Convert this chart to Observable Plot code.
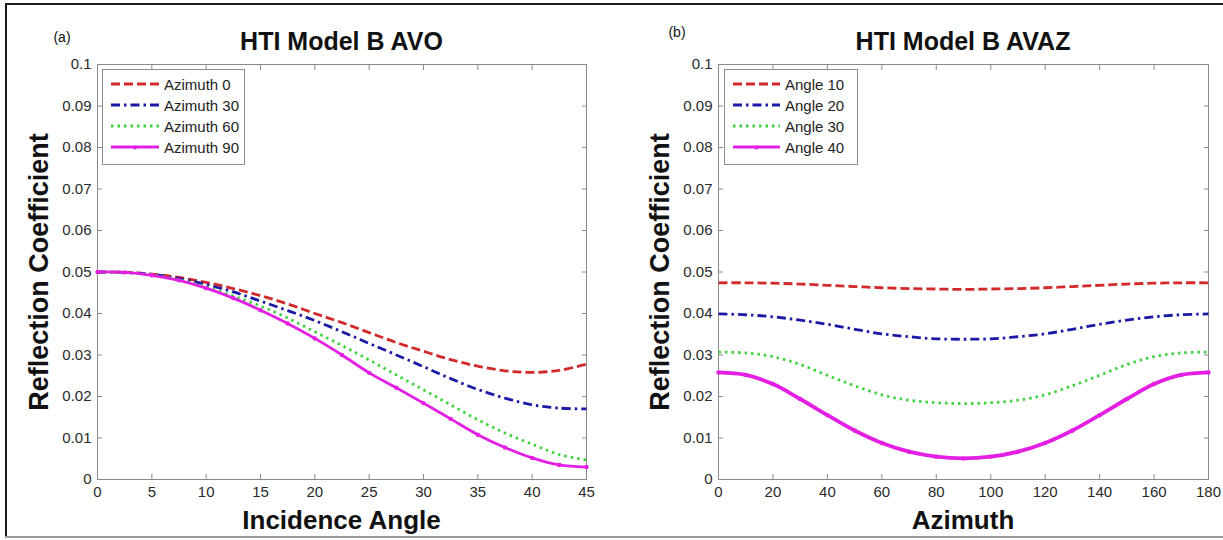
<!DOCTYPE html>
<html><head><meta charset="utf-8">
<script src="https://cdn.jsdelivr.net/npm/d3@7"></script>
<script src="https://cdn.jsdelivr.net/npm/@observablehq/plot@0.6"></script>
<style>
body{margin:0;background:#fff;}
#wrap{position:relative;width:1223px;height:540px;overflow:hidden;font-family:"Liberation Sans",Arial,sans-serif;color:#111;}
.abs{position:absolute;white-space:nowrap;}
.title{font-weight:bold;font-size:25px;transform:translate(-50%,-50%);}
.tag{font-size:14px;transform:translate(-50%,-50%);}
.xlab{font-weight:bold;font-size:26px;transform:translate(-50%,-50%);}
.ylab{font-weight:bold;font-size:27px;transform:translate(-50%,-50%) rotate(-90deg);}
.legend{background:#fff;border:1px solid #8c8c8c;box-sizing:border-box;}
.legrow{position:absolute;height:20px;display:flex;align-items:center;font-size:15px;color:#222;}
.legrow svg{display:block;margin-right:5px;}
.plotbox{position:absolute;top:0;}
</style></head><body><div id="wrap"></div>
<script>
// ---------- data ----------
const incidenceAngles = [0, 2.5, 5, 7.5, 10, 12.5, 15, 17.5, 20, 22.5, 25, 27.5, 30, 32.5, 35, 37.5, 40, 42.5, 45];
const avoAzimuth0  = [0.0500, 0.0499, 0.0495, 0.0487, 0.0475, 0.0460, 0.0443, 0.0423, 0.0400, 0.0378, 0.0354, 0.0330, 0.0309, 0.0289, 0.0273, 0.0262, 0.0258, 0.0263, 0.0278];
const avoAzimuth30 = [0.0500, 0.0499, 0.0494, 0.0484, 0.0470, 0.0452, 0.0430, 0.0407, 0.0383, 0.0356, 0.0328, 0.0300, 0.0272, 0.0243, 0.0217, 0.0196, 0.0180, 0.0172, 0.0170];
const avoAzimuth60 = [0.0500, 0.0499, 0.0493, 0.0481, 0.0464, 0.0442, 0.0418, 0.0389, 0.0356, 0.0323, 0.0288, 0.0252, 0.0216, 0.0180, 0.0144, 0.0112, 0.0085, 0.0060, 0.0047];
const avoAzimuth90 = [0.0500, 0.0499, 0.0492, 0.0480, 0.0461, 0.0437, 0.0408, 0.0376, 0.0340, 0.0300, 0.0257, 0.0221, 0.0184, 0.0146, 0.0108, 0.0077, 0.0052, 0.0035, 0.0030];
const avoNames = ["Azimuth 0", "Azimuth 30", "Azimuth 60", "Azimuth 90"];

const azimuths = [0, 10, 20, 30, 40, 50, 60, 70, 80, 90, 100, 110, 120, 130, 140, 150, 160, 170, 180];
const avazAngle10 = [0.0474, 0.0474, 0.0473, 0.0471, 0.0468, 0.0465, 0.0462, 0.0460, 0.0459, 0.0458, 0.0459, 0.0460, 0.0462, 0.0465, 0.0468, 0.0471, 0.0473, 0.0474, 0.0474];
const avazAngle20 = [0.0399, 0.0397, 0.0392, 0.0384, 0.0374, 0.0362, 0.0351, 0.0344, 0.0339, 0.0338, 0.0339, 0.0344, 0.0351, 0.0362, 0.0374, 0.0384, 0.0392, 0.0397, 0.0399];
const avazAngle30 = [0.0307, 0.0305, 0.0296, 0.0277, 0.0251, 0.0226, 0.0204, 0.0191, 0.0185, 0.0183, 0.0185, 0.0191, 0.0204, 0.0226, 0.0251, 0.0277, 0.0296, 0.0305, 0.0307];
const avazAngle40 = [0.0258, 0.0252, 0.0230, 0.0194, 0.0155, 0.0118, 0.0088, 0.0067, 0.0055, 0.0051, 0.0055, 0.0067, 0.0088, 0.0118, 0.0155, 0.0194, 0.0230, 0.0252, 0.0258];
const avazNames = ["Angle 10", "Angle 20", "Angle 30", "Angle 40"];

const yTicks = [0, 0.01, 0.02, 0.03, 0.04, 0.05, 0.06, 0.07, 0.08, 0.09, 0.1];
const yTickLabels = ["0", "0.01", "0.02", "0.03", "0.04", "0.05", "0.06", "0.07", "0.08", "0.09", "0.1"];
const avoXTicks = [0, 5, 10, 15, 20, 25, 30, 35, 40, 45];
const avazXTicks = [0, 20, 40, 60, 80, 100, 120, 140, 160, 180];

// ---------- styles ----------
const seriesColors = ["#d22a2a", "#1a1aa6", "#3fd23f", "#e41fe4"];
const seriesDash = ["9,4", "9,4,2.5,4", "2.5,4", null];
const axisGray = "#8a8a8a";

const wrap = d3.select("#wrap");

function panel(opts) {
  const {left, width, ml, mr, xs, ys, names, xTicks, xDomain, title, tag, tagPos, xLabel, legend, lineWidth} = opts;
  const rows = ys.map((arr, s) => arr.map((v, i) => ({x: xs[i], y: v, s})));
  const marks = [
    Plot.frame({stroke: axisGray}),
    Plot.axisX({ticks: xTicks, tickSize: 0, tickPadding: 7, label: null, fill: "#2a2a2a"}),
    Plot.axisX({ticks: xTicks, tickSize: -5, tickFormat: () => "", label: null, stroke: axisGray}),
    Plot.axisX({anchor: "top", ticks: xTicks, tickSize: -5, tickFormat: () => "", label: null, stroke: axisGray}),
    Plot.axisY({ticks: yTicks, tickSize: 0, tickPadding: 6, tickFormat: (d, i) => yTickLabels[i], label: null, fill: "#2a2a2a"}),
    Plot.axisY({ticks: yTicks, tickSize: -5, tickFormat: () => "", label: null, stroke: axisGray}),
    Plot.axisY({anchor: "right", ticks: yTicks, tickSize: -5, tickFormat: () => "", label: null, stroke: axisGray})
  ];
  rows.forEach((r, s) => {
    marks.push(Plot.line(r, {x: "x", y: "y", stroke: seriesColors[s], strokeWidth: s === 3 ? lineWidth : 2.8,
      strokeDasharray: seriesDash[s], strokeLinecap: "butt", curve: "catmull-rom"}));
  });
  marks.push(Plot.dot(rows[3], {x: "x", y: "y", r: 2.2, fill: seriesColors[3]}));
  const svg = Plot.plot({
    width, height: 540,
    marginLeft: ml, marginRight: mr, marginTop: 64, marginBottom: 61,
    x: {domain: xDomain},
    y: {domain: [0, 0.1]},
    style: {background: "transparent", fontSize: "15px", fontFamily: "Liberation Sans, Arial, sans-serif", color: "#2a2a2a", overflow: "visible"},
    marks
  });
  const box = wrap.append("div").attr("class", "plotbox").style("left", left + "px").style("width", width + "px");
  box.node().appendChild(svg);

  const plotL = left + ml, plotR = left + width - mr;
  const cx = (plotL + plotR) / 2;
  wrap.append("div").attr("class", "abs title").style("left", cx + "px").style("top", "41px").text(title);
  wrap.append("div").attr("class", "abs tag").style("left", tagPos[0] + "px").style("top", tagPos[1] + "px").text(tag);
  wrap.append("div").attr("class", "abs xlab").style("left", cx + "px").style("top", "520px").text(xLabel);
  wrap.append("div").attr("class", "abs ylab").style("left", (plotL - 58) + "px").style("top", "272px").text("Reflection Coefficient");

  const lg = wrap.append("div").attr("class", "abs legend")
    .style("left", legend.x + "px").style("top", legend.y + "px")
    .style("width", legend.w + "px").style("height", legend.h + "px");
  names.forEach((n, s) => {
    const row = lg.append("div").attr("class", "legrow")
      .style("left", legend.pad + "px").style("top", (4 + s * 21) + "px");
    const sv = row.append("svg").attr("width", legend.len).attr("height", 10);
    sv.append("line").attr("x1", 0).attr("x2", legend.len).attr("y1", 5).attr("y2", 5)
      .attr("stroke", seriesColors[s]).attr("stroke-width", 2.8)
      .attr("stroke-dasharray", seriesDash[s]);
    if (s === 3) sv.append("circle").attr("cx", legend.len / 2).attr("cy", 5.5).attr("r", 2).attr("fill", seriesColors[s]);
    row.append("span").text(n);
  });
}

panel({left: 0, width: 611, ml: 97, mr: 25, xs: incidenceAngles,
  ys: [avoAzimuth0, avoAzimuth30, avoAzimuth60, avoAzimuth90], names: avoNames,
  xTicks: avoXTicks, xDomain: [0, 45], title: "HTI Model B AVO", tag: "(a)", tagPos: [62, 37],
  xLabel: "Incidence Angle", lineWidth: 2.8,
  legend: {x: 102, y: 69, w: 143, h: 96, pad: 8, len: 48}});

panel({left: 611, width: 612, ml: 107, mr: 15, xs: azimuths,
  ys: [avazAngle10, avazAngle20, avazAngle30, avazAngle40], names: avazNames,
  xTicks: avazXTicks, xDomain: [0, 180], title: "HTI Model B AVAZ", tag: "(b)", tagPos: [677, 32],
  xLabel: "Azimuth", lineWidth: 3.8,
  legend: {x: 724, y: 69, w: 134, h: 96, pad: 8, len: 47}});

// figure border
wrap.append("div").attr("class", "abs").style("left", "5px").style("top", "3px").style("width", "1230px").style("height", "2px").style("background", "#1a1a1a");
wrap.append("div").attr("class", "abs").style("left", "5px").style("top", "3px").style("width", "2px").style("height", "534px").style("background", "#1a1a1a");
wrap.append("div").attr("class", "abs").style("left", "5px").style("top", "536px").style("width", "1230px").style("height", "2px").style("background", "#9a9a9a");
</script>
</body></html>
